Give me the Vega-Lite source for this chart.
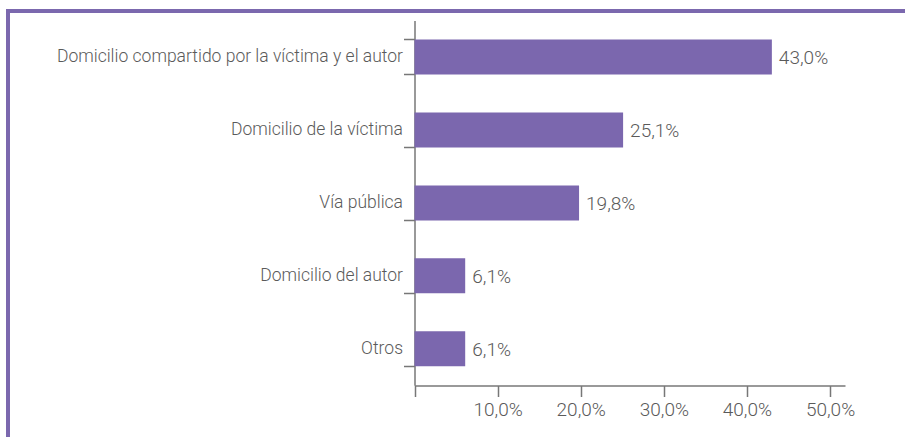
{
  "$schema": "https://vega.github.io/schema/vega-lite/v6.json",
  "autosize": {"type": "none"},
  "padding": {"left": 8, "top": 11, "right": 0, "bottom": 0},
  "width": 897,
  "height": 426,
  "background": "white",
  "config": {
    "locale": {"number": {"decimal": ",", "thousands": ".", "grouping": [3], "currency": ["", " €"]}},
    "view": {"stroke": "#7b68ae", "strokeWidth": 4, "strokeDash": [897, 1323, 426]},
    "font": "Roboto",
    "axis": {
      "grid": false,
      "domainColor": "#777777",
      "domainWidth": 1.5,
      "tickColor": "#777777",
      "tickWidth": 1.5,
      "tickSize": 11,
      "labelFont": "Roboto",
      "labelFontWeight": 300,
      "labelFontSize": 17.5,
      "labelColor": "#5a5a5a",
      "title": null
    }
  },
  "data": {
    "values": [
      {"lugar": "Domicilio compartido por la víctima y el autor", "valor": 0.430},
      {"lugar": "Domicilio de la víctima", "valor": 0.251},
      {"lugar": "Vía pública", "valor": 0.198},
      {"lugar": "Domicilio del autor", "valor": 0.061},
      {"lugar": "Otros", "valor": 0.061}
    ]
  },
  "encoding": {
    "y": {
      "field": "lugar",
      "type": "nominal",
      "sort": null,
      "scale": {"range": [9.5, 374.3], "paddingInner": 0.52, "paddingOuter": 0.26},
      "axis": {"orient": "left", "offset": -406.5, "tickBand": "extent", "labelPadding": 1, "labelLimit": 500}
    },
    "x": {
      "field": "valor",
      "type": "quantitative",
      "scale": {"domain": [0, 0.518], "range": [406.5, 837], "nice": false},
      "axis": {"orient": "bottom", "offset": -51.5, "values": [0, 0.1, 0.2, 0.3, 0.4, 0.5], "format": ".1%", "labelExpr": "datum.value === 0 ? '' : datum.label", "labelPadding": 4, "labelFontSize": 19}
    }
  },
  "layer": [
    {"mark": {"type": "bar", "color": "#7b67ae"}},
    {
      "mark": {"type": "text", "align": "left", "baseline": "middle", "dx": 7, "dy": 1, "font": "Roboto", "fontWeight": 300, "fontSize": 19, "color": "#5a5a5a"},
      "encoding": {"text": {"field": "valor", "type": "quantitative", "format": ".1%"}}
    }
  ]
}
